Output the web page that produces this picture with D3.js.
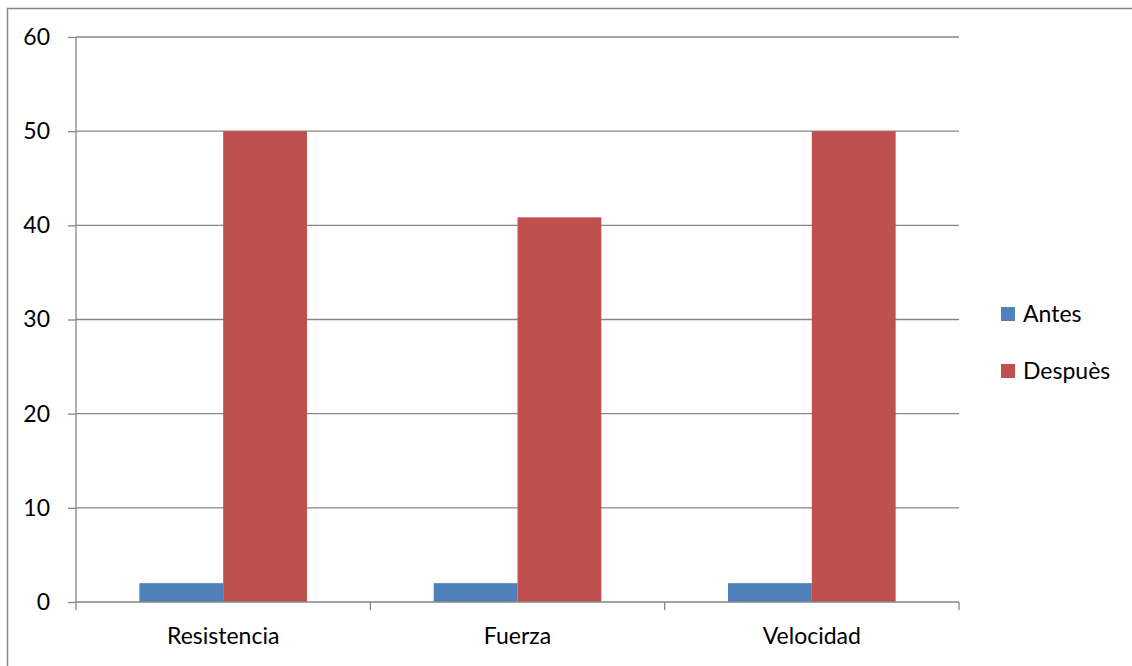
<!DOCTYPE html>
<html><head><meta charset="utf-8">
<script src="https://cdn.jsdelivr.net/npm/d3@7"></script>
<style>body{margin:0;background:#fff}svg{display:block}</style>
</head><body><svg id="c" width="1132" height="666"></svg>
<script>
const categories = ["Resistencia", "Fuerza", "Velocidad"];
const seriesNames = ["Antes", "Despuès"];
const antes = [2, 2, 2];
const despues = [50, 40.85, 50];
const yTicks = [0, 10, 20, 30, 40, 50, 60];
const colors = ["#4f81bd", "#c0504d"];

const svg = d3.select("#c");
const font = "Lato, 'Open Sans', sans-serif";
const fs = "23px";
const m = {l: 76, r: 959, t: 37, b: 602};

svg.append("rect").attr("x", 7.5).attr("y", 8.5).attr("width", 1140).attr("height", 700)
  .attr("fill", "none").attr("stroke", "#868686").attr("stroke-width", 1.5);

const x = d3.scaleBand().domain(categories).range([m.l, m.r]).paddingInner(0).paddingOuter(0);
const y = d3.scaleLinear().domain([0, 60]).range([m.b, m.t]);
const inner = d3.scaleBand().domain(seriesNames).range([0, x.bandwidth()]).paddingInner(0).paddingOuter(0.756);

// gridlines
svg.append("g").selectAll("line").data(yTicks.filter(d => d > 0)).join("line")
  .attr("x1", m.l).attr("x2", m.r).attr("y1", d => y(d)).attr("y2", d => y(d))
  .attr("stroke", "#868686").attr("stroke-width", 1.3);

// bars
const data = categories.map((c, i) => ({c, vals: [antes[i], despues[i]]}));
const g = svg.append("g").selectAll("g").data(data).join("g")
  .attr("transform", d => `translate(${x(d.c)},0)`);
g.selectAll("rect").data(d => d.vals.map((v, j) => ({v, j}))).join("rect")
  .attr("x", d => inner(seriesNames[d.j])).attr("width", inner.bandwidth())
  .attr("y", d => y(d.v)).attr("height", d => y(0) - y(d.v))
  .attr("fill", d => colors[d.j]);

// y axis
const yAxis = svg.append("g").attr("transform", `translate(${m.l},0)`)
  .call(d3.axisLeft(y).tickValues(yTicks).tickSize(8).tickPadding(18).tickFormat(d3.format("d")));
yAxis.select(".domain").attr("stroke", "#868686").attr("stroke-width", 1.3).attr("d", `M0,${m.t}V${m.b}`);
yAxis.selectAll(".tick line").attr("stroke", "#868686").attr("stroke-width", 1.3);
yAxis.selectAll("text").attr("fill", "#000").style("font-family", font).style("font-size", fs);

// x axis
const xAxis = svg.append("g").attr("transform", `translate(0,${m.b})`)
  .call(d3.axisBottom(x).tickSize(0).tickPadding(26));
xAxis.select(".domain").attr("stroke", "#868686").attr("stroke-width", 1.3).attr("d", `M${m.l},0H${m.r}`);
xAxis.selectAll("text").attr("fill", "#000").style("font-family", font).style("font-size", fs);
const bounds = [...categories.map(c => x(c)), m.r];
svg.append("g").selectAll("line").data(bounds).join("line")
  .attr("x1", d => d).attr("x2", d => d).attr("y1", m.b).attr("y2", m.b + 8)
  .attr("stroke", "#868686").attr("stroke-width", 1.3);

// legend
const lg = svg.append("g").selectAll("g").data(seriesNames).join("g")
  .attr("transform", (d, i) => `translate(1001,${307 + i * 57})`);
lg.append("rect").attr("width", 14).attr("height", 14).attr("fill", (d, i) => colors[i]);
lg.append("text").attr("x", 22).attr("y", 15).text(d => d)
  .style("font-family", font).style("font-size", fs).attr("fill", "#000");
</script></body></html>
